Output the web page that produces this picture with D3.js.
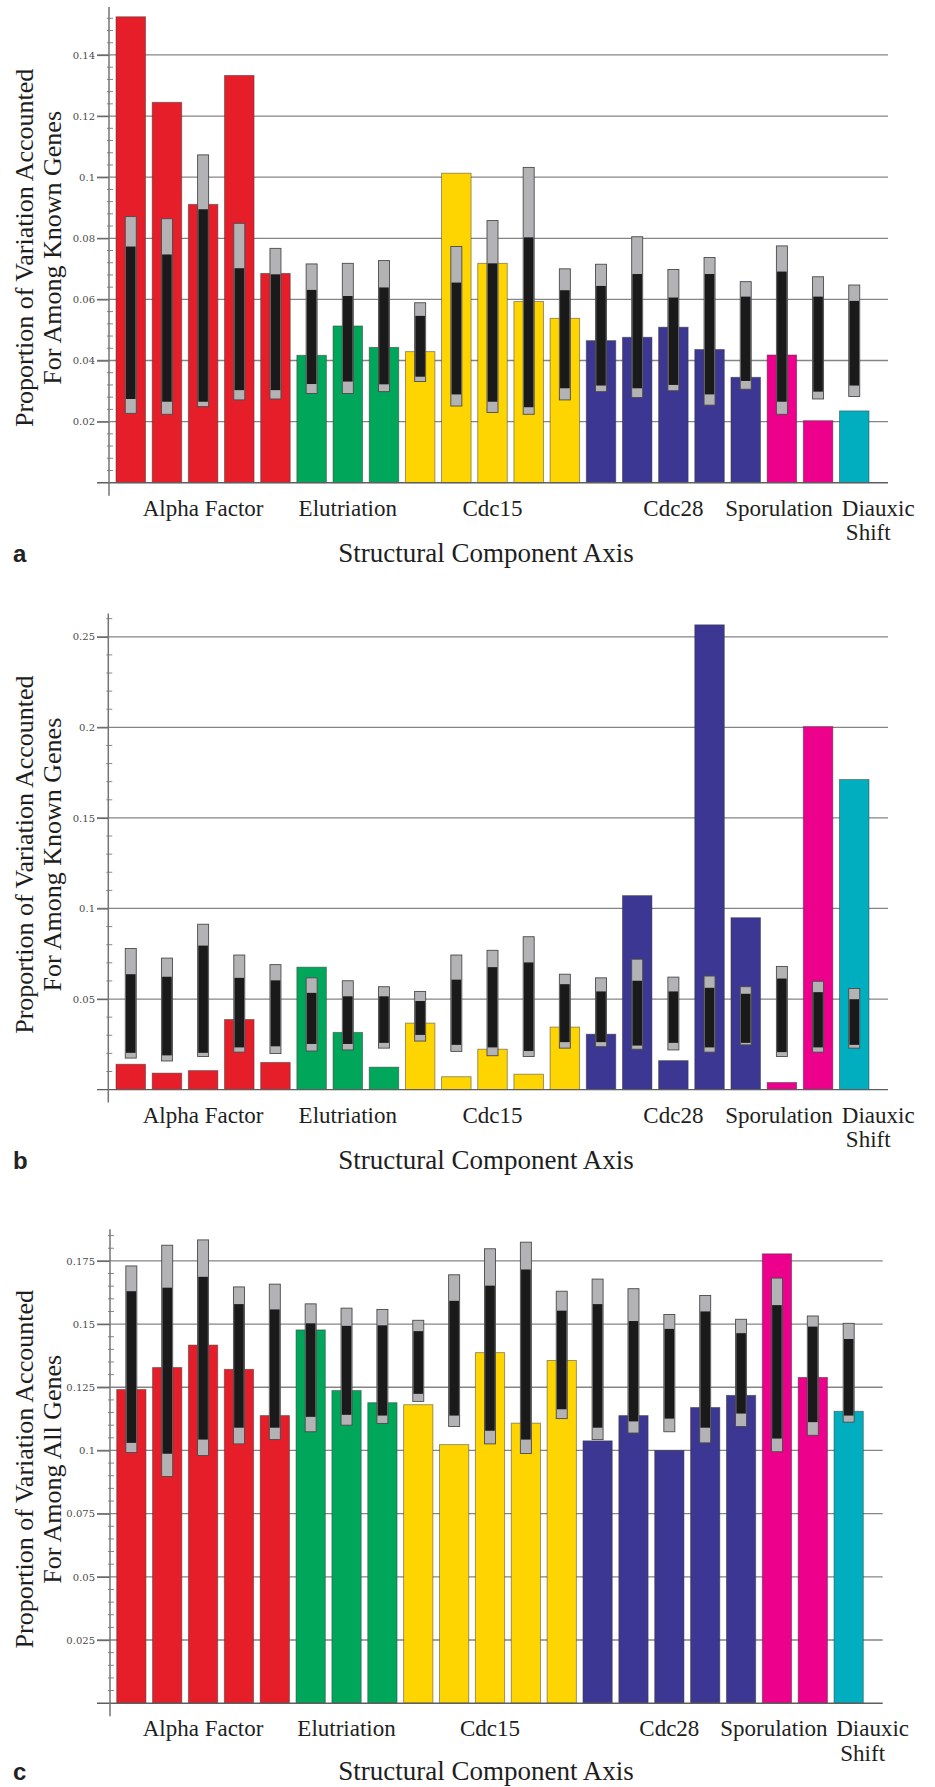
<!DOCTYPE html>
<html>
<head>
<meta charset="utf-8">
<script src="https://cdn.jsdelivr.net/npm/d3@7"></script>
<style>
  html, body { margin: 0; padding: 0; background: #fff; }
  svg { display: block; }
</style>
</head>
<body>
<svg id="fig" width="935" height="1787"></svg>
<script>
// Experiment groups along the structural component axis
const categories = ["Alpha Factor", "Elutriation", "Cdc15", "Cdc28", "Sporulation", "Diauxic Shift"];
const groupSizes = [5, 3, 5, 5, 2, 1];
const groupColors = ["#e61e2a", "#00a65a", "#fed500", "#3b3793", "#ec008c", "#00aebf"];

// Panel a: proportion of variation, known genes
const valuesA    = [0.1525, 0.1245, 0.0911, 0.1333, 0.0685, 0.0417, 0.0513, 0.0443, 0.0429, 0.1013, 0.0718, 0.0593, 0.0538, 0.0465, 0.0476, 0.0509, 0.0436, 0.0345, 0.0418, 0.0203, 0.0235];
const outerHighA = [0.0871, 0.0864, 0.1073, 0.0849, 0.0767, 0.0716, 0.0718, 0.0727, 0.0589, 0.0773, 0.0858, 0.1032, 0.0700, 0.0715, 0.0805, 0.0698, 0.0737, 0.0658, 0.0775, 0.0674, 0.0647];
const outerLowA  = [0.0227, 0.0224, 0.0249, 0.0271, 0.0274, 0.0292, 0.0292, 0.0298, 0.0331, 0.0251, 0.0230, 0.0224, 0.0271, 0.0298, 0.0279, 0.0301, 0.0254, 0.0306, 0.0224, 0.0274, 0.0282];
const innerHighA = [0.0773, 0.0747, 0.0895, 0.0702, 0.0682, 0.0631, 0.0611, 0.0639, 0.0546, 0.0655, 0.0718, 0.0803, 0.0630, 0.0644, 0.0683, 0.0606, 0.0683, 0.0609, 0.0691, 0.0609, 0.0595];
const innerLowA  = [0.0274, 0.0265, 0.0265, 0.0303, 0.0303, 0.0323, 0.0331, 0.0322, 0.0347, 0.0289, 0.0265, 0.0247, 0.0309, 0.0318, 0.0309, 0.0320, 0.0289, 0.0333, 0.0265, 0.0298, 0.0318];
const ticksA = [0.02, 0.04, 0.06, 0.08, 0.1, 0.12, 0.14];

// Panel b: proportion of variation, known genes (second structure)
const valuesB    = [0.0140, 0.0091, 0.0105, 0.0387, 0.0150, 0.0676, 0.0316, 0.0124, 0.0367, 0.0071, 0.0223, 0.0085, 0.0345, 0.0306, 0.1071, 0.0160, 0.2566, 0.0949, 0.0039, 0.2004, 0.1712];
const outerHighB = [0.0779, 0.0726, 0.0913, 0.0743, 0.0690, 0.0617, 0.0601, 0.0568, 0.0542, 0.0743, 0.0769, 0.0844, 0.0637, 0.0617, 0.0720, 0.0621, 0.0627, 0.0568, 0.0680, 0.0598, 0.0558];
const outerLowB  = [0.0174, 0.0158, 0.0183, 0.0207, 0.0199, 0.0213, 0.0219, 0.0229, 0.0268, 0.0211, 0.0187, 0.0183, 0.0229, 0.0237, 0.0223, 0.0219, 0.0207, 0.0247, 0.0183, 0.0207, 0.0229];
const innerHighB = [0.0637, 0.0623, 0.0795, 0.0617, 0.0603, 0.0534, 0.0515, 0.0515, 0.0489, 0.0607, 0.0676, 0.0702, 0.0582, 0.0542, 0.0601, 0.0542, 0.0562, 0.0529, 0.0613, 0.0538, 0.0499];
const innerLowB  = [0.0203, 0.0189, 0.0203, 0.0233, 0.0239, 0.0252, 0.0252, 0.0258, 0.0302, 0.0247, 0.0233, 0.0213, 0.0262, 0.0262, 0.0243, 0.0258, 0.0233, 0.0258, 0.0207, 0.0233, 0.0247];
const ticksB = [0.05, 0.1, 0.15, 0.2, 0.25];

// Panel c: proportion of variation, all genes
const valuesC    = [0.1241, 0.1328, 0.1417, 0.1321, 0.1138, 0.1477, 0.1237, 0.1189, 0.1181, 0.1023, 0.1387, 0.1108, 0.1356, 0.1038, 0.1138, 0.1000, 0.1170, 0.1218, 0.1778, 0.1289, 0.1155];
const outerHighC = [0.1730, 0.1812, 0.1833, 0.1647, 0.1658, 0.1580, 0.1563, 0.1558, 0.1515, 0.1695, 0.1798, 0.1824, 0.1630, 0.1678, 0.1640, 0.1538, 0.1613, 0.1519, 0.1682, 0.1532, 0.1503];
const outerLowC  = [0.0992, 0.0897, 0.0980, 0.1026, 0.1043, 0.1074, 0.1100, 0.1107, 0.1194, 0.1095, 0.1026, 0.0988, 0.1126, 0.1043, 0.1069, 0.1074, 0.1030, 0.1095, 0.0995, 0.1060, 0.1112];
const innerHighC = [0.1630, 0.1644, 0.1687, 0.1579, 0.1558, 0.1503, 0.1493, 0.1495, 0.1472, 0.1592, 0.1652, 0.1716, 0.1553, 0.1579, 0.1512, 0.1481, 0.1550, 0.1464, 0.1575, 0.1490, 0.1441];
const innerLowC  = [0.1030, 0.0987, 0.1043, 0.1090, 0.1090, 0.1133, 0.1141, 0.1138, 0.1224, 0.1138, 0.1078, 0.1043, 0.1163, 0.1090, 0.1115, 0.1126, 0.1090, 0.1146, 0.1047, 0.1112, 0.1138];
const ticksC = [0.025, 0.05, 0.075, 0.1, 0.125, 0.15, 0.175];

// Axis extents and minor tick spacing per panel
const yAxisMax = [0.1557, 0.2628, 0.1875];
const minorSteps = [0.004, 0.01, 0.005];

const yTitleLine1 = "Proportion of Variation Accounted";
const yTitleLine2 = ["For Among Known Genes", "For Among Known Genes", "For Among All Genes"];
const xTitle = "Structural Component Axis";
const panelLetters = ["a", "b", "c"];

// ---- layout ----
const layouts = [
  { axisX: 109,   top: 7,      base: 482.7,  gridLeft: 97, gridRight: 888,   x0: 116,   x1: 869,   titleGap: 79.5 },
  { axisX: 108.3, top: 613.6,  base: 1089.6, gridLeft: 97, gridRight: 888,   x0: 116,   x1: 869,   titleGap: 79.5 },
  { axisX: 110,   top: 1229.3, base: 1703.2, gridLeft: 97, gridRight: 882.7, x0: 116.7, x1: 863.3, titleGap: 76.5 }
];
const panelData = [
  { v: valuesA, oh: outerHighA, ol: outerLowA, ih: innerHighA, il: innerLowA, ticks: ticksA },
  { v: valuesB, oh: outerHighB, ol: outerLowB, ih: innerHighB, il: innerLowB, ticks: ticksB },
  { v: valuesC, oh: outerHighC, ol: outerLowC, ih: innerHighC, il: innerLowC, ticks: ticksC }
];
// small horizontal shifts for the crowded labels at the right end
const labelNudge = { "Sporulation": -21, "Diauxic Shift": [24, 14] };

// colour of each bar from its group
const barColor = [];
groupSizes.forEach((n, g) => { for (let i = 0; i < n; i++) barColor.push(groupColors[g]); });
const groupStart = groupSizes.map((n, g) => d3.sum(groupSizes.slice(0, g)));

const svg = d3.select("#fig");
const serif = "'Liberation Serif', 'Times New Roman', serif";

panelData.forEach((pd, p) => {
  const L = layouts[p];
  const g = svg.append("g");
  const idx = d3.range(pd.v.length);

  const x = d3.scaleBand().domain(idx).range([L.x0, L.x1]).paddingInner(0.184).paddingOuter(0);
  const y = d3.scaleLinear().domain([0, yAxisMax[p]]).range([L.base, L.top]);

  // grid lines (behind bars)
  g.append("g").selectAll("line").data(pd.ticks).join("line")
    .attr("x1", L.gridLeft).attr("x2", L.gridRight)
    .attr("y1", d => y(d)).attr("y2", d => y(d))
    .attr("stroke", "#858585").attr("stroke-width", 1.3);

  // bars
  g.append("g").selectAll("rect").data(idx).join("rect")
    .attr("x", i => x(i)).attr("width", x.bandwidth())
    .attr("y", i => y(pd.v[i])).attr("height", i => y(0) - y(pd.v[i]))
    .attr("fill", i => barColor[i])
    .attr("stroke", "#3a3a3a").attr("stroke-opacity", 0.55).attr("stroke-width", 0.9);

  // outer (grey) and inner (black) ranges
  const ew = 11;
  g.append("g").selectAll("rect").data(idx).join("rect")
    .attr("x", i => x(i) + x.bandwidth() / 2 - ew / 2).attr("width", ew)
    .attr("y", i => y(pd.oh[i])).attr("height", i => y(pd.ol[i]) - y(pd.oh[i]))
    .attr("fill", "#b3b3b6").attr("stroke", "#4a4a4a").attr("stroke-width", 0.9);
  g.append("g").selectAll("rect").data(idx).join("rect")
    .attr("x", i => x(i) + x.bandwidth() / 2 - (ew - 1.4) / 2).attr("width", ew - 1.4)
    .attr("y", i => y(pd.ih[i])).attr("height", i => y(pd.il[i]) - y(pd.ih[i]))
    .attr("fill", "#1b1a1a");

  // baseline (x axis)
  g.append("line")
    .attr("x1", L.gridLeft).attr("x2", L.gridRight)
    .attr("y1", y(0)).attr("y2", y(0))
    .attr("stroke", "#5e5e5e").attr("stroke-width", 1.4);

  // y axis with major ticks and labels
  const axis = d3.axisLeft(y).tickValues(pd.ticks)
    .tickSize(L.axisX - L.gridLeft).tickPadding(2)
    .tickFormat(d => String(+d.toFixed(3)));
  const ag = g.append("g").attr("transform", `translate(${L.axisX},0)`).call(axis);
  ag.select(".domain").remove();
  ag.selectAll(".tick line").attr("stroke", "#6a6a6a").attr("stroke-width", 1.3);
  ag.selectAll(".tick text")
    .attr("font-family", "'DejaVu Serif', serif").attr("font-size", 10)
    .attr("fill", "#4a4a4a");

  // minor ticks
  const minors = d3.range(0, yAxisMax[p] + 1e-9, minorSteps[p])
    .filter(v => v > 0 && !pd.ticks.some(t => Math.abs(t - v) < 1e-9));
  g.append("g").selectAll("line").data(minors).join("line")
    .attr("x1", L.axisX - 2).attr("x2", L.axisX + 4)
    .attr("y1", d => y(d)).attr("y2", d => y(d))
    .attr("stroke", "#8a8a8a").attr("stroke-width", 1);

  // vertical axis line, overhanging below the baseline
  g.append("line")
    .attr("x1", L.axisX).attr("x2", L.axisX)
    .attr("y1", L.top).attr("y2", L.base + 13)
    .attr("stroke", "#747474").attr("stroke-width", 1.5);

  // group labels
  const labels = g.append("g").attr("font-family", serif).attr("font-size", 23).attr("fill", "#1e1e1e")
    .attr("text-anchor", "middle");
  categories.forEach((c, k) => {
    const first = groupStart[k], last = first + groupSizes[k] - 1;
    const cx = (x(first) + x(last) + x.bandwidth()) / 2;
    const words = c === "Diauxic Shift" ? ["Diauxic", "Shift"] : [c];
    const nudge = labelNudge[c];
    words.forEach((w, j) => {
      const dx = Array.isArray(nudge) ? nudge[j] : (nudge || 0);
      labels.append("text")
        .attr("x", cx + dx).attr("y", L.base + 33 + j * 24.5)
        .text(w);
    });
  });

  // axis titles
  const yMid = (L.top + L.base) / 2;
  [yTitleLine1, yTitleLine2[p]].forEach((t, j) => {
    g.append("text")
      .attr("transform", `translate(${33 + j * 28},${yMid + 3}) rotate(-90)`)
      .attr("text-anchor", "middle")
      .attr("font-family", serif).attr("font-size", 26).attr("fill", "#1e1e1e")
      .text(t);
  });
  g.append("text")
    .attr("x", 486).attr("y", L.base + L.titleGap)
    .attr("text-anchor", "middle")
    .attr("font-family", serif).attr("font-size", 27).attr("fill", "#1e1e1e")
    .text(xTitle);

  // panel letter
  g.append("text")
    .attr("x", 13).attr("y", L.base + L.titleGap)
    .attr("font-family", "'Liberation Sans', Arial, sans-serif").attr("font-weight", "bold")
    .attr("font-size", 24).attr("fill", "#222")
    .text(panelLetters[p]);
});
</script>
</body>
</html>
